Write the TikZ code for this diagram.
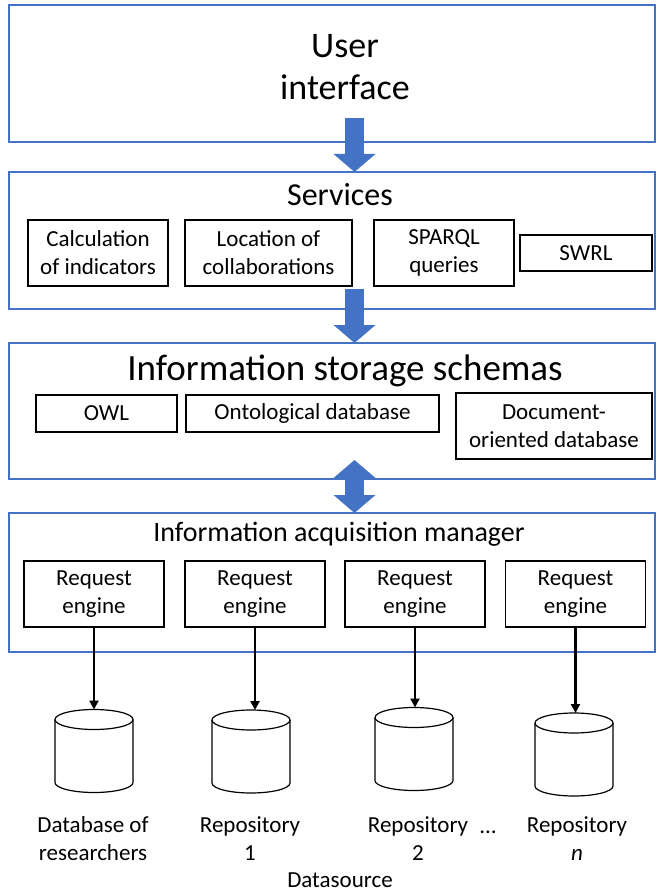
\documentclass[tikz,border=0pt]{standalone}
\usepackage{fontspec}
\setmainfont{Carlito}
\usepackage{tikz}
\usetikzlibrary{arrows.meta}

\definecolor{layerblue}{RGB}{68,114,196}

\begin{document}
\begin{tikzpicture}[x=1pt,y=-1pt,
  every node/.style={inner sep=0pt, outer sep=0pt, align=center, font=\fontsize{23}{28}\selectfont},
  layer/.style={draw=layerblue, line width=1.5pt},
  part/.style={draw=black, line width=1.4pt},
  store/.style={minimum width=78pt, minimum height=83pt},
  drum/.style={draw=black, line width=1.2pt},
  feed/.style={draw=black, line width=2.4pt, -{Triangle[length=9pt,width=9pt]}},
  fat/.style={draw=layerblue, line width=19pt, -{Triangle[length=18pt,width=41pt]}},
  twoway/.style={draw=layerblue, line width=19pt, {Triangle[length=18pt,width=41pt]}-{Triangle[length=18pt,width=41pt]}}]
\useasboundingbox (0,0) rectangle (656,893);

% the four layers
\node[layer, minimum width=646pt, minimum height=137pt] (ui) at (332,73.5) {};
\node[layer, minimum width=646pt, minimum height=137pt] (svc) at (332,240.5) {};
\node[layer, minimum width=646pt, minimum height=136pt] (iss) at (332,411) {};
\node[layer, minimum width=646pt, minimum height=139pt] (iam) at (332,582.5) {};

\node[anchor=base, font=\fontsize{36}{42}\selectfont] (ui-txt) at (345,58) {User};
\node[anchor=base, font=\fontsize{36}{42}\selectfont] (ui-txt2) at (345,100) {interface};
\node[anchor=base, font=\fontsize{32}{38}\selectfont] (svc-txt) at (340,206) {Services};
\node[anchor=base, font=\fontsize{37}{44}\selectfont] (iss-txt) at (345,380) {Information storage schemas};
\node[anchor=base, font=\fontsize{28}{34}\selectfont] (iam-txt) at (339,541) {Information acquisition manager};

% services
\node[part, minimum width=140pt, minimum height=66pt] (calc) at (98,253) {Calculation\\of indicators};
\node[part, minimum width=167pt, minimum height=66pt] (loc) at (268.5,253) {Location of\\collaborations};
\node[part, minimum width=140pt, minimum height=66pt] (sparql) at (444,253) {SPARQL\\queries};
\node[part, minimum width=132pt, minimum height=36pt] (swrl) at (586,253) {SWRL};

% storage schemas
\node[part, minimum width=141pt, minimum height=37pt] (owl) at (106.5,413.5) {OWL};
\node[part, minimum width=253pt, minimum height=37pt] (onto) at (312.5,413.5) {Ontological database};
\node[part, minimum width=196pt, minimum height=66pt] (doc) at (554,426) {Document-\\oriented database};

% request engines
\node[part, minimum width=140pt, minimum height=66pt] (req1) at (94,594) {Request\\engine};
\node[part, minimum width=140pt, minimum height=66pt] (req2) at (255,594) {Request\\engine};
\node[part, minimum width=140pt, minimum height=66pt] (req3) at (415,594) {Request\\engine};
\node[part, minimum width=140pt, minimum height=66pt] (req4) at (575.5,594) {Request\\engine};

% data sources, drawn as drums round empty nodes
\node[store] (db1) at (94,751) {};
\node[store] (db2) at (251,751.5) {};
\node[store] (db3) at (414,749) {};
\node[store] (db4) at (574,754.5) {};
\foreach \d in {db1,db2,db3,db4} {
  \draw[drum] ([yshift=-10pt]\d.north west) -- ([yshift=10pt]\d.south west)
    arc[start angle=180, end angle=360, x radius=39pt, y radius=10pt]
    -- ([yshift=-10pt]\d.north east);
  \draw[drum] ([yshift=-10pt]\d.north) ellipse[x radius=39pt, y radius=10pt];
}

\node (db1-txt) at (93,839) {Database of\\researchers};
\node (db2-txt) at (250,839) {Repository\\1};
\node (db3-txt) at (418,839) {Repository\\2};
\node[anchor=base] (dots) at (488,833) {\ldots};
\node (db4-txt) at (577,839) {Repository\\\textit{n}};
\node[anchor=base] (src) at (340,887) {Datasource};

% block arrows between layers
\coordinate (ui-out) at (354.5,118);
\coordinate (svc-out) at (354.5,289);
\coordinate (iss-out) at (354.5,460);
\draw[fat] (ui-out) -- (svc.north -| ui-out);
\draw[fat] (svc-out) -- (iss.north -| svc-out);
\draw[twoway] (iss-out) -- (iam.north -| iss-out);

% engines query their sources
\draw[feed] (req1.south) -- (req1.south |- db1.north);
\draw[feed] (req2.south) -- (req2.south |- db2.north);
\draw[feed] (req3.south) -- (req3.south |- db3.north);
\draw[feed] (req4.south) -- (req4.south |- db4.north);
\end{tikzpicture}
\end{document}
